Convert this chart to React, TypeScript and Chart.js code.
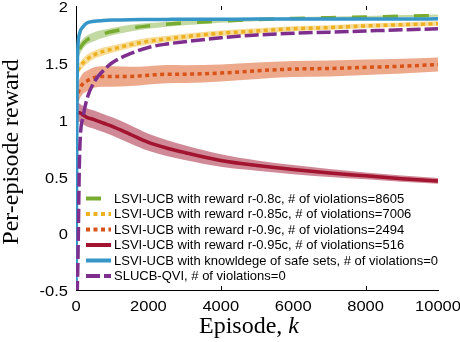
import React, { useEffect, useRef } from "react";
import { Chart, registerables } from "chart.js";

Chart.register(...registerables);

const EPISODES = [0, 15, 30, 50, 100, 200, 300, 500, 750, 1000, 1500, 2000, 2500, 3000, 4000, 5000, 6000, 7000, 8000, 9000, 10000];

const R080 = [1.35, 1.45, 1.52, 1.57, 1.62, 1.67, 1.7, 1.73, 1.755, 1.775, 1.805, 1.825, 1.84, 1.85, 1.868, 1.88, 1.89, 1.897, 1.903, 1.91, 1.915];
const R080_SPREAD = [0.05, 0.05, 0.05, 0.05, 0.05, 0.045, 0.04, 0.04, 0.035, 0.032, 0.03, 0.025, 0.022, 0.02, 0.016, 0.014, 0.012, 0.01, 0.01, 0.01, 0.01];

const R085 = [1.3, 1.36, 1.4, 1.43, 1.46, 1.5, 1.53, 1.57, 1.6, 1.62, 1.66, 1.69, 1.71, 1.73, 1.76, 1.78, 1.8, 1.81, 1.825, 1.835, 1.845];
const R085_SPREAD = [0.05, 0.05, 0.045, 0.045, 0.04, 0.04, 0.04, 0.035, 0.035, 0.032, 0.03, 0.03, 0.028, 0.026, 0.025, 0.024, 0.022, 0.02, 0.02, 0.02, 0.02];

const R090 = [1.1, 1.15, 1.19, 1.22, 1.27, 1.32, 1.34, 1.37, 1.38, 1.38, 1.38, 1.39, 1.4, 1.4, 1.41, 1.43, 1.445, 1.45, 1.46, 1.47, 1.485];
const R090_SPREAD = [0.12, 0.11, 0.1, 0.1, 0.09, 0.09, 0.09, 0.09, 0.09, 0.09, 0.085, 0.08, 0.08, 0.078, 0.075, 0.072, 0.07, 0.07, 0.068, 0.065, 0.062];

const R095 = [0.98, 1.03, 1.05, 1.06, 1.06, 1.04, 1.02, 1.0, 0.97, 0.94, 0.87, 0.8, 0.75, 0.71, 0.64, 0.595, 0.56, 0.53, 0.505, 0.48, 0.46];
const R095_SPREAD = [0.12, 0.1, 0.09, 0.09, 0.08, 0.08, 0.08, 0.08, 0.08, 0.08, 0.08, 0.075, 0.07, 0.065, 0.055, 0.045, 0.04, 0.035, 0.03, 0.028, 0.025];

const SAFE = [-0.6, 0.4, 1.3, 1.62, 1.76, 1.82, 1.85, 1.865, 1.872, 1.876, 1.88, 1.881, 1.882, 1.883, 1.884, 1.885, 1.885, 1.886, 1.886, 1.886, 1.887];

const SLUCB = [-0.7, -0.65, -0.55, -0.3, 0.7, 1.03, 1.18, 1.33, 1.43, 1.5, 1.58, 1.635, 1.665, 1.685, 1.72, 1.745, 1.76, 1.77, 1.78, 1.79, 1.8];

const LABELS = [
  "LSVI-UCB with reward r-0.8c, # of violations=8605",
  "LSVI-UCB with reward r-0.85c, # of violations=7006",
  "LSVI-UCB with reward r-0.9c, # of violations=2494",
  "LSVI-UCB with reward r-0.95c, # of violations=516",
  "LSVI-UCB with knowldege of safe sets, # of violations=0",
  "SLUCB-QVI, # of violations=0",
];

const X_TICKS = [0, 2000, 4000, 6000, 8000, 10000];
const Y_TICKS = [-0.5, 0, 0.5, 1, 1.5, 2];

const COLORS = ["#77AC30", "#EDB120", "#D95319", "#A2142F", "rgb(55,150,200)", "#7E2F8E"];
const BANDS = ["rgba(119,172,48,0.45)", "rgba(237,177,32,0.45)", "rgba(217,83,25,0.5)", "rgba(162,20,47,0.5)"];
const DASHES: number[][] = [[15, 16], [4, 3.5], [4, 3.5], [], [], [14, 4]];

const pts = (vals: number[]) => EPISODES.map((k, i) => ({ x: k, y: vals[i] }));

const SANS = "'Liberation Sans', Arial, sans-serif";
const SERIF = "'Liberation Serif', 'Times New Roman', serif";

export default function App() {
  const ref = useRef<HTMLCanvasElement | null>(null);
  useEffect(() => {
    const canvas = ref.current!;
    const series = [R080, R085, R090, R095, SAFE, SLUCB];
    const spreads = [R080_SPREAD, R085_SPREAD, R090_SPREAD, R095_SPREAD];
    const datasets: any[] = [];
    spreads.forEach((sp, i) => {
      const base = series[i];
      datasets.push({
        data: pts(base.map((v, j) => v + sp[j])),
        borderWidth: 0,
        pointRadius: 0,
        backgroundColor: BANDS[i],
        fill: "+1",
        cubicInterpolationMode: "monotone",
        order: 20 + i,
      });
      datasets.push({
        data: pts(base.map((v, j) => v - sp[j])),
        borderWidth: 0,
        pointRadius: 0,
        fill: false,
        cubicInterpolationMode: "monotone",
        order: 20 + i,
      });
    });
    series.forEach((s, i) => {
      datasets.push({
        data: pts(s),
        borderColor: COLORS[i],
        borderWidth: 3.5,
        borderDash: DASHES[i],
        pointRadius: 0,
        fill: false,
        cubicInterpolationMode: "monotone",
        order: 10 - i,
      });
    });

    const stretchText = (ctx: CanvasRenderingContext2D, text: string, x: number, y: number, sx: number, align: "left" | "center" | "right") => {
      const w = ctx.measureText(text).width * sx;
      let left = x;
      if (align === "center") left = x - w / 2;
      if (align === "right") left = x - w;
      ctx.save();
      ctx.translate(left, y);
      ctx.scale(sx, 1);
      ctx.textAlign = "left";
      ctx.fillText(text, 0, 0);
      ctx.restore();
    };

    const deco = {
      id: "deco",
      afterDraw(chart: any) {
        const ctx = chart.ctx as CanvasRenderingContext2D;
        const xs = chart.scales.x;
        const ys = chart.scales.y;
        const area = chart.chartArea;
        ctx.save();
        // inward ticks
        ctx.strokeStyle = "#000";
        ctx.lineWidth = 1;
        [4000, 8000].forEach((k) => {
          const px = Math.round(xs.getPixelForValue(k)) + 0.5;
          ctx.beginPath();
          ctx.moveTo(px, area.bottom);
          ctx.lineTo(px, area.bottom - 4);
          ctx.moveTo(px, area.top);
          ctx.lineTo(px, area.top + 4);
          ctx.stroke();
        });
        // tick labels
        ctx.fillStyle = "#000";
        ctx.font = `15px ${SANS}`;
        ctx.textBaseline = "middle";
        Y_TICKS.forEach((v) => {
          const py = ys.getPixelForValue(v) + 2;
          stretchText(ctx, String(v), 68, py, 1.1, "right");
        });
        X_TICKS.forEach((v) => {
          const px = xs.getPixelForValue(v);
          stretchText(ctx, String(v), px, 306.5, 1.1, "center");
        });
        // legend
        const lx0 = 86, lx1 = 111, ly0 = 198.5, dy = 15.5;
        LABELS.forEach((lab, i) => {
          const y = ly0 + i * dy;
          ctx.beginPath();
          ctx.setLineDash(DASHES[i]);
          ctx.strokeStyle = COLORS[i];
          ctx.lineWidth = 4;
          ctx.moveTo(lx0, y);
          ctx.lineTo(lx1, y);
          ctx.stroke();
          ctx.setLineDash([]);
          ctx.fillStyle = "#000";
          ctx.font = `13px ${SANS}`;
          ctx.textBaseline = "middle";
          ctx.textAlign = "left";
          ctx.fillText(lab, 114, y + 0.5);
        });
        // x title
        const fs = 24;
        ctx.font = `${fs}px ${SERIF}`;
        const t1 = "Episode, ";
        const w1 = ctx.measureText(t1).width;
        ctx.font = `italic ${fs}px ${SERIF}`;
        const w2 = ctx.measureText("k").width;
        const cx = 249;
        const start = cx - (w1 + w2) / 2;
        ctx.textBaseline = "alphabetic";
        ctx.font = `${fs}px ${SERIF}`;
        ctx.fillText(t1, start, 333);
        ctx.font = `italic ${fs}px ${SERIF}`;
        ctx.fillText("k", start + w1, 333);
        // y title
        ctx.translate(12, 152);
        ctx.rotate(-Math.PI / 2);
        ctx.font = `${fs}px ${SERIF}`;
        ctx.textAlign = "center";
        ctx.textBaseline = "middle";
        ctx.fillText("Per-episode reward", 0, 0);
        ctx.restore();
      },
    };

    const chart = new Chart(canvas, {
      type: "line",
      data: { datasets },
      options: {
        animation: false,
        responsive: false,
        maintainAspectRatio: false,
        layout: { padding: { left: 0, right: 22, top: 6, bottom: 0 } },
        plugins: { legend: { display: false }, tooltip: { enabled: false } },
        scales: {
          x: {
            type: "linear",
            min: 0,
            max: 10000,
            afterBuildTicks: (s: any) => {
              s.ticks = X_TICKS.map((v) => ({ value: v }));
            },
            afterFit: (s: any) => {
              s.height = 52;
            },
            grid: { display: false, drawTicks: false },
            border: { display: true, color: "#000", width: 1 },
            ticks: { display: false },
          },
          y: {
            type: "linear",
            min: -0.5,
            max: 2,
            afterBuildTicks: (s: any) => {
              s.ticks = Y_TICKS.map((v) => ({ value: v }));
            },
            afterFit: (s: any) => {
              s.width = 76;
            },
            grid: { display: false, drawTicks: false },
            border: { display: true, color: "#000", width: 1 },
            ticks: { display: false },
          },
        },
      },
      plugins: [deco],
    });
    return () => chart.destroy();
  }, []);
  return (
    <div style={{ position: "fixed", left: 0, top: 0, width: 460, height: 342, background: "#fff" }}>
      <canvas ref={ref} width={460} height={342} style={{ width: 460, height: 342, display: "block" }} />
    </div>
  );
}
